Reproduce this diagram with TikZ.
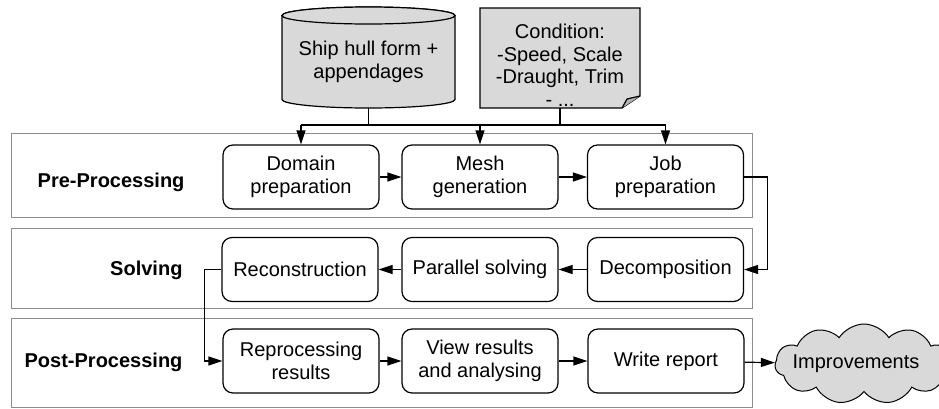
\documentclass[tikz,border=0pt]{standalone}
\usepackage{fontspec}
\setmainfont{Liberation Sans}
\usetikzlibrary{arrows.meta,shapes.symbols}
\begin{document}
\begin{tikzpicture}[x=1pt,y=-1pt,
  font=\fontsize{20}{22.5}\selectfont,
  lane/.style={draw=black!45,line width=1pt},
  stepbox/.style={draw=black,line width=1.2pt,rounded corners=10pt,fill=white,
    minimum width=156pt,minimum height=64pt,inner sep=0pt,align=center},
  lanelabel/.style={anchor=east,font=\fontsize{20}{22.5}\selectfont\bfseries},
  arr/.style={draw=black,line width=1.2pt,-{Triangle[length=14pt,width=9pt]}},
  wire/.style={draw=black,line width=1.2pt},
  store/.style={fill=black!15,draw=black,line width=1.2pt}]
\useasboundingbox (0,0) rectangle (939,408);

% swim lanes
\draw[lane] (11,133) rectangle (752,217);
\draw[lane] (11,228) rectangle (752,308);
\draw[lane] (11,318) rectangle (752,407);
\node[lanelabel] (lpre) at (188,182) {Pre-Processing};
\node[lanelabel] (lsolve) at (186,270) {Solving};
\node[lanelabel] (lpost) at (186,362) {Post-Processing};

% input data: cylinder
\draw[store] (282,15.5) -- (282,99.5) arc (180:360:86.5pt and 8.5pt)
  -- (455,15.5) arc (0:180:86.5pt and 8.5pt) -- cycle;
\draw[store] (368.5,15.5) ellipse [x radius=86.5pt, y radius=8.5pt];
\node[minimum width=173pt,minimum height=92.5pt,inner sep=0pt,align=center]
  (hull) at (368.5,61.75) {Ship hull form +\\appendages};

% input data: note with folded corner
\draw[store] (480,8) -- (640,8) -- (640,96) -- (622,108) -- (480,108) -- cycle;
\draw[line width=1.2pt,fill=black!30,line join=round] (640,96) -- (627,99) -- (622,108);
\node[minimum width=160pt,minimum height=86pt,inner sep=0pt,align=center]
  (cond) at (560,65) {Condition:\\-Speed, Scale\\-Draught, Trim\\- ...};

% process steps
\node[stepbox] (domain) at (301,177) {Domain\\preparation};
\node[stepbox] (mesh)   at (480,177) {Mesh\\generation};
\node[stepbox] (job)    at (665.5,177) {Job\\preparation};
\node[stepbox] (recon)  at (300,269.5) {Reconstruction};
\node[stepbox] (par)    at (480,269.5) {Parallel solving};
\node[stepbox] (decomp) at (665.5,269.5) {Decomposition};
\node[stepbox] (repro)  at (301,361) {Reprocessing\\results};
\node[stepbox] (view)   at (480,361) {View results\\and analysing};
\node[stepbox] (write)  at (666,361) {Write report};

\node[cloud,cloud puffs=11,cloud puff arc=115,aspect=2.1,draw=black,line width=1pt,
  fill=black!15,minimum width=178pt,minimum height=80pt,inner sep=0pt,
  label={[xshift=-8pt]center:Improvements}] (impr) at (864,364) {};

% input bus
\coordinate (bus) at (0,125);
\draw[wire] (hull.south) -- (hull.south |- bus);
\draw[wire] (cond.south) -- (cond.south |- bus);
\draw[wire] (domain.north |- bus) -- (job.north |- bus);
\draw[arr] (domain.north |- bus) -- (domain.north);
\draw[arr] (mesh.north |- bus) -- (mesh.north);
\draw[arr] (job.north |- bus) -- (job.north);

% flow
\draw[arr] (domain) -- (mesh);
\draw[arr] (mesh) -- (job);
\draw[arr] (job.east) -- ++(23.5,0) |- (decomp.east);
\draw[arr] (decomp) -- (par);
\draw[arr] (par) -- (recon);
\draw[arr] (recon.west) -- ++(-17,0) |- (repro.west);
\draw[arr] (repro) -- (view);
\draw[arr] (view) -- (write);
\draw[arr] (write) -- (impr);
\end{tikzpicture}
\end{document}
